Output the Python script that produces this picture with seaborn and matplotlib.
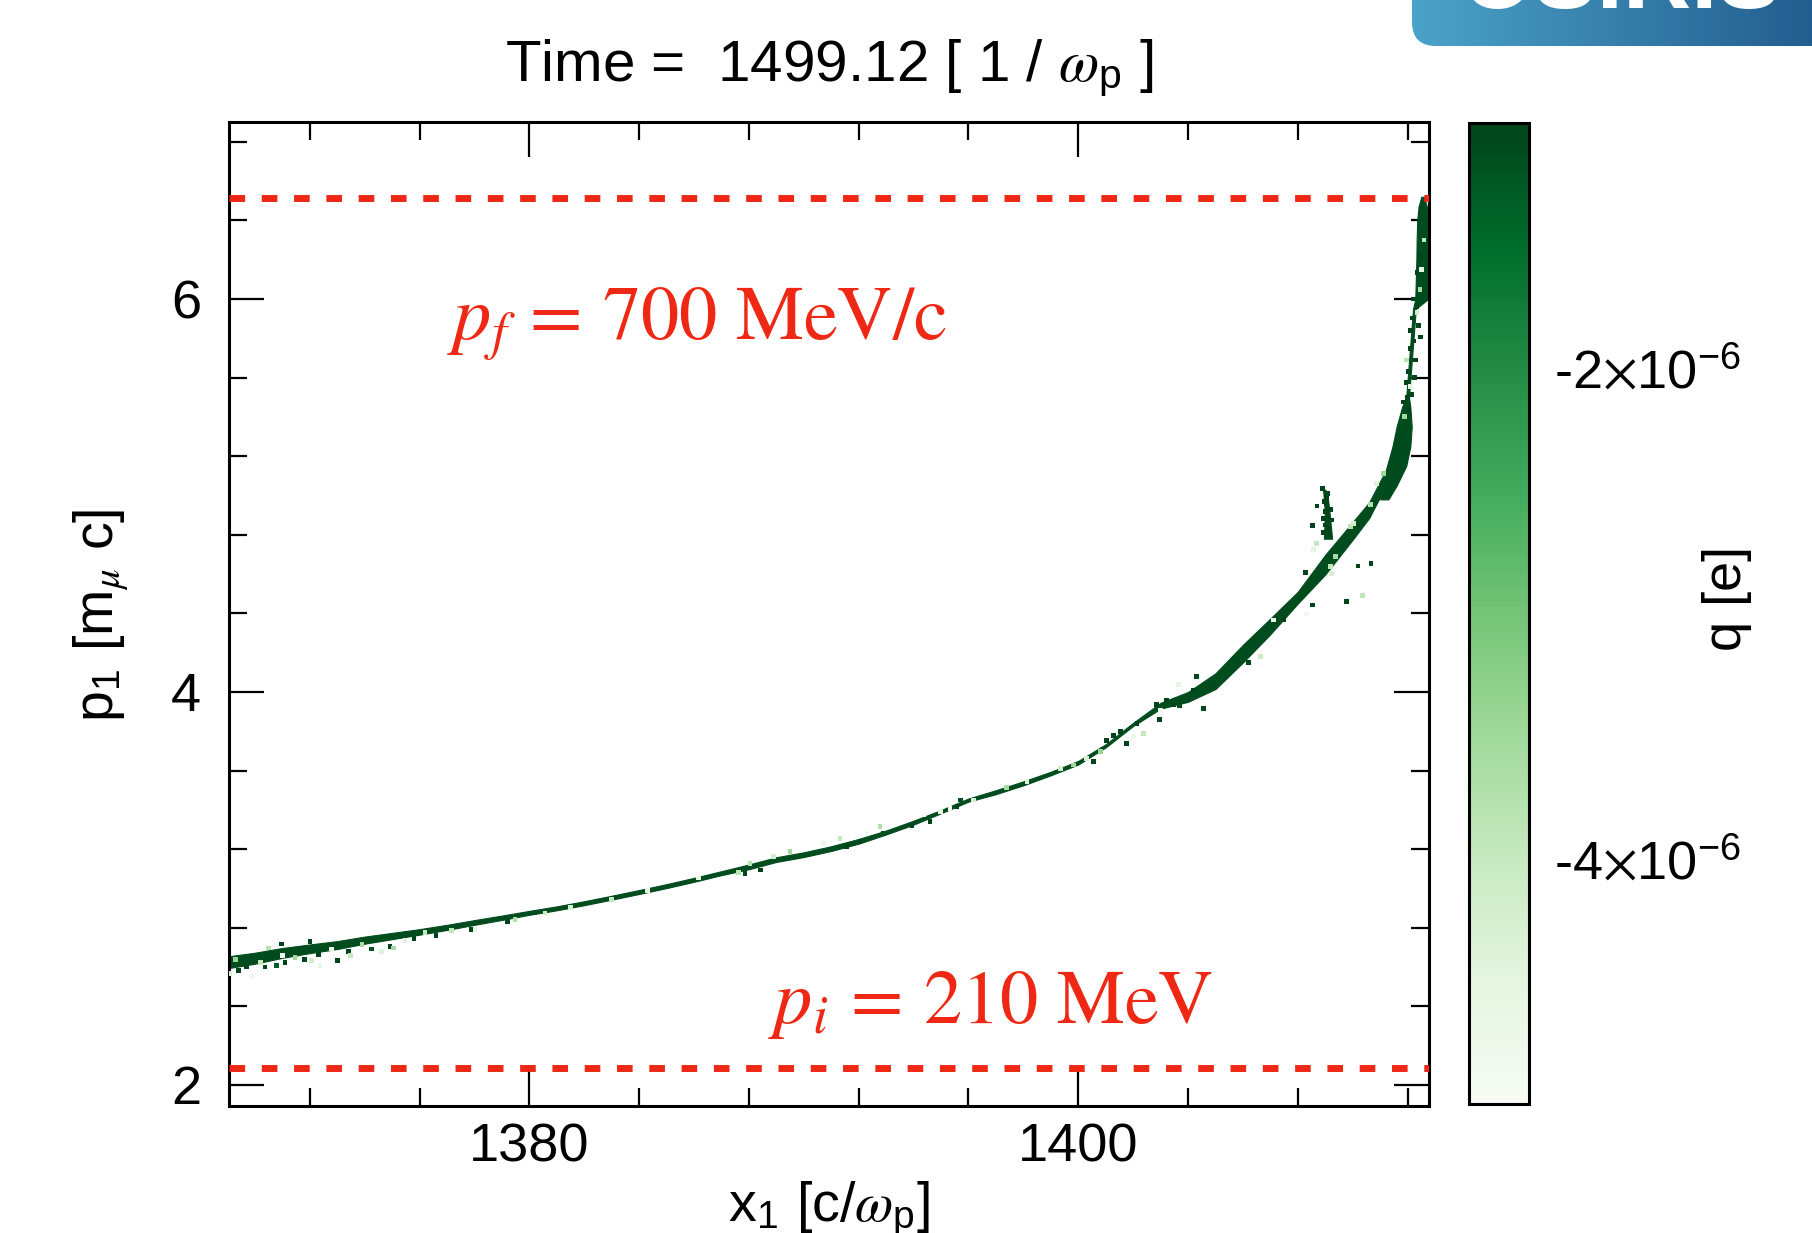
import numpy as np
import pandas as pd
import matplotlib.pyplot as plt
import seaborn as sns
from matplotlib.colors import Normalize, LinearSegmentedColormap
from matplotlib.ticker import MultipleLocator, FuncFormatter
from matplotlib.patches import FancyBboxPatch

# dense core of the muon bunch: centre line p1(x1) and half width in p1
band_x = [1369.05, 1370, 1371, 1372, 1373, 1374, 1375, 1376, 1377, 1378, 1379,
          1380, 1381, 1382, 1383, 1384, 1385, 1386, 1387, 1388, 1389, 1390,
          1391, 1392, 1393, 1394, 1395, 1396, 1397, 1398, 1399, 1400, 1401,
          1402, 1403, 1404, 1405, 1406, 1407, 1408, 1409, 1410, 1410.6, 1411.1]
band_p = [2.625, 2.645, 2.672, 2.693, 2.712, 2.737, 2.758, 2.779, 2.802, 2.827, 2.851,
          2.876, 2.899, 2.925, 2.953, 2.982, 3.012, 3.044, 3.078, 3.110, 3.147, 3.172,
          3.203, 3.240, 3.285, 3.335, 3.391, 3.450, 3.490, 3.535, 3.585, 3.640, 3.726,
          3.835, 3.930, 3.975, 4.055, 4.195, 4.334, 4.480, 4.648, 4.820, 4.925, 5.060]
band_dp = [0.030, 0.028, 0.025, 0.022, 0.020, 0.018, 0.016, 0.014, 0.013, 0.012, 0.011,
           0.010, 0.010, 0.010, 0.010, 0.010, 0.010, 0.010, 0.010, 0.012, 0.012, 0.012,
           0.012, 0.012, 0.010, 0.010, 0.008, 0.008, 0.010, 0.010, 0.009, 0.009, 0.008,
           0.008, 0.015, 0.025, 0.040, 0.045, 0.040, 0.030, 0.050, 0.045, 0.040, 0.040]

# steep head of the bunch: x1 range for each p1
steep_p = [4.98, 5.05, 5.15, 5.25, 5.35, 5.45, 5.50, 5.95, 6.00, 6.10, 6.20, 6.30, 6.40, 6.47, 6.52]
steep_xlo = [1411.0, 1411.05, 1411.25, 1411.45, 1411.6, 1411.8, 1411.95, 1412.2, 1412.28,
             1412.3, 1412.32, 1412.33, 1412.35, 1412.4, 1412.5]
steep_xhi = [1411.3, 1411.6, 1411.95, 1412.1, 1412.15, 1412.1, 1412.05, 1412.3, 1412.75,
             1412.78, 1412.78, 1412.78, 1412.75, 1412.7, 1412.6]

# narrow spike sticking out of the bunch near x1 = 1409
spike_p = [4.78, 4.85, 4.92, 4.98, 5.03]
spike_xlo = [1408.95, 1408.97, 1408.98, 1408.95, 1408.92]
spike_xhi = [1409.25, 1409.2, 1409.15, 1409.1, 1409.0]

# single macro particles around the core (q in 1e-6 e)
part_x = [1369.4, 1369.7, 1370.37, 1370.8, 1370.98, 1371.1, 1371.8, 1372.01, 1372.31, 1373.0, 1373.4, 1374.25, 1374.92, 1375.8, 1376.6, 1377.9, 1379.2,
          1369.09, 1369.3, 1369.88, 1370.2, 1370.49, 1371.0, 1371.46, 1372.07, 1372.37, 1372.8, 1373.47, 1373.9, 1374.6, 1375.05, 1375.47, 1376.2, 1377.17, 1378.02, 1379.48, 1380.57, 1381.5, 1383.0, 1384.3, 1386.16, 1387.62,
          1388.04, 1388.9, 1389.5, 1390.72, 1391.32, 1392.3, 1392.78, 1394.36, 1394.97, 1395.33, 1396.18, 1397.4, 1398.13, 1399.34, 1399.83, 1400.31, 1400.8, 1402.01, 1402.38, 1402.99,
          1387.86, 1388.41, 1391.57, 1392.05, 1392.9, 1393.94, 1394.6, 1395.58, 1395.7, 1400.56, 1401.04, 1401.29, 1401.53, 1401.77, 1402.14, 1403.47,
          1402.84, 1402.96, 1403.23, 1403.47, 1403.69, 1404.2, 1404.32, 1404.56, 1408.27, 1408.54, 1408.54, 1408.7, 1409.76, 1410.19, 1410.67, 1407.5, 1406.2,
          1403.65, 1406.63, 1407.11, 1408.33, 1408.57, 1408.69, 1409.18, 1409.24, 1409.36, 1409.91, 1410.03, 1410.36, 1410.64, 1410.88, 1411.12,
          1408.91, 1408.94, 1408.95, 1408.98, 1409.0, 1409.0, 1409.05, 1409.06, 1409.1, 1409.1, 1409.12, 1409.15, 1409.2, 1409.24,
          1411.85, 1412.04, 1412.0, 1412.16, 1411.97, 1412.25, 1412.04, 1412.28, 1412.1, 1412.22, 1412.46, 1412.1, 1412.4, 1412.16, 1412.34, 1412.22, 1412.34, 1412.46,
          1411.9, 1412.1, 1411.97, 1412.34, 1412.45, 1412.5, 1412.6]
part_p = [2.583, 2.600, 2.600, 2.610, 2.717, 2.625, 2.640, 2.730, 2.663, 2.633, 2.680, 2.692, 2.703, 2.745, 2.762, 2.790, 2.830,
          2.567, 2.640, 2.550, 2.625, 2.697, 2.660, 2.650, 2.633, 2.608, 2.692, 2.658, 2.715, 2.680, 2.697, 2.737, 2.775, 2.787, 2.792, 2.842, 2.875, 2.905, 2.945, 2.990, 3.053, 3.083,
          3.128, 3.162, 3.187, 3.230, 3.255, 3.280, 3.314, 3.374, 3.391, 3.408, 3.450, 3.515, 3.543, 3.611, 3.628, 3.662, 3.696, 3.772, 3.789, 3.908,
          3.077, 3.094, 3.213, 3.238, 3.280, 3.318, 3.340, 3.416, 3.450, 3.645, 3.755, 3.780, 3.798, 3.738, 3.840, 3.934,
          3.937, 3.861, 3.959, 3.934, 3.929, 4.010, 4.078, 3.917, 4.609, 4.846, 4.443, 4.946, 4.460, 4.641, 4.655, 4.370, 4.150,
          4.039, 4.180, 4.366, 4.397, 4.723, 4.757, 4.638, 4.604, 4.689, 4.841, 4.858, 4.489, 4.952, 5.062, 5.113,
          5.036, 4.884, 4.810, 4.970, 4.918, 4.850, 4.990, 4.960, 4.900, 5.010, 4.833, 4.800, 4.930, 4.875,
          5.476, 5.437, 5.500, 5.515, 5.573, 5.600, 5.631, 5.689, 5.748, 5.786, 5.806, 5.840, 5.864, 5.903, 5.961, 6.000, 6.136, 6.214,
          5.400, 5.553, 5.689, 5.932, 6.050, 6.150, 6.300]
part_q = [-1.0, -1.0, -1.0, -1.3, -1.0, -1.0, -1.0, -1.0, -1.0, -1.0, -1.0, -1.2, -1.0, -1.0, -1.0, -1.0, -1.0,
          -4.3, -3.4, -4.8, -4.0, -3.8, -4.9, -3.5, -4.2, -4.6, -4.7, -4.0, -3.6, -4.4, -3.6, -4.4, -4.0, -3.9, -4.5, -3.7, -4.1, -4.2, -3.9, -4.5, -4.6, -3.8,
          -3.8, -4.2, -3.5, -4.6, -4.0, -4.8, -3.7, -4.9, -4.5, -5.0, -4.2, -3.6, -4.4, -4.1, -3.5, -4.3, -3.4, -4.7, -4.0, -4.6,
          -1.0, -1.0, -1.0, -1.0, -1.2, -1.0, -1.0, -1.0, -1.2, -1.0, -1.0, -1.0, -1.0, -1.0, -1.0, -1.0,
          -1.0, -1.0, -1.0, -1.0, -1.1, -1.0, -1.0, -1.0, -1.0, -1.0, -1.0, -1.0, -1.0, -1.0, -1.0, -1.0, -1.0,
          -4.5, -4.1, -4.6, -4.8, -4.5, -4.0, -3.9, -4.3, -3.6, -3.8, -4.2, -3.9, -3.7, -4.4, -3.5,
          -1.0, -1.0, -1.0, -1.0, -1.0, -1.0, -1.0, -1.0, -1.0, -1.0, -1.0, -1.0, -1.0, -1.0,
          -1.0, -1.0, -1.0, -1.0, -1.0, -1.0, -1.0, -1.0, -1.0, -1.0, -1.0, -1.0, -1.0, -1.0, -1.0, -1.0, -1.0, -1.0,
          -3.5, -4.5, -3.8, -4.2, -3.6, -4.6, -3.9]

q_range = (-5.0e-6, -1.0e-6)
core_q = -1.1e-6
p_final = 6.512   # 700 MeV/c
p_init = 2.085    # 210 MeV
red = '#ee2814'

sns.set_style('ticks')
plt.rcParams['font.family'] = ['Liberation Sans', 'DejaVu Sans']
plt.rcParams['mathtext.fontset'] = 'stix'
for k in ('text.color', 'axes.labelcolor', 'xtick.color', 'ytick.color', 'axes.edgecolor'):
    plt.rcParams[k] = 'black'

W, H = 1812, 1233
fig = plt.figure(figsize=(W / 100, H / 100), dpi=100)
ax = fig.add_axes([228.8 / W, 1 - 1106 / H, (1429 - 228.8) / W, (1106 - 122.3) / H])

cmap = plt.get_cmap('Greens')
norm = Normalize(*q_range)
core_col = cmap(norm(core_q))

# core of the bunch
ax.fill_between(band_x, np.array(band_p) - np.array(band_dp), np.array(band_p) + np.array(band_dp),
                color=core_col, linewidth=0.8, edgecolor=core_col)
ax.fill_betweenx(steep_p, steep_xlo, steep_xhi, color=core_col, linewidth=0.8, edgecolor=core_col)
ax.fill_betweenx(spike_p, spike_xlo, spike_xhi, color=core_col, linewidth=0.8, edgecolor=core_col)

df = pd.DataFrame({'x1': part_x, 'p1': part_p, 'q': np.array(part_q) * 1e-6})
sns.scatterplot(data=df, x='x1', y='p1', hue='q', palette='Greens', hue_norm=q_range,
                marker='s', s=12, linewidth=0, legend=False, ax=ax, zorder=3)

for pl in (p_final, p_init):
    ax.axhline(pl, color=red, lw=5, ls=(0, (2.25, 2.4)), dash_capstyle='butt', zorder=4)

ax.text(1377.0, 5.797, r'$p_f\,=\,700\ \mathrm{MeV/c}$', color=red, fontsize=55, va='baseline')
ax.text(1388.7, 2.316, r'$p_i\,=\,210\ \mathrm{MeV}$', color=red, fontsize=55, va='baseline')

ax.set_xlim(1369.05, 1412.78)
ax.set_ylim(1.893, 6.899)
ax.set_xlabel('')
ax.set_ylabel('')
ax.xaxis.set_major_locator(MultipleLocator(20))
ax.xaxis.set_minor_locator(MultipleLocator(4))
ax.yaxis.set_major_locator(MultipleLocator(2))
ax.yaxis.set_minor_locator(MultipleLocator(0.4))
ax.tick_params(which='both', direction='in', top=True, right=True, width=1.6, labelsize=39)
ax.tick_params(which='major', length=25)
ax.tick_params(which='minor', length=13)
ax.tick_params(axis='y', pad=20)
ax.tick_params(axis='x', pad=12)
for s in ax.spines.values():
    s.set_linewidth(2.2)

# colour bar
cax = fig.add_axes([1468.5 / W, 1 - 1104 / H, 60 / W, (1104 - 122.8) / H])
sm = plt.cm.ScalarMappable(norm=norm, cmap=cmap)
cbar = fig.colorbar(sm, cax=cax)
cbar.set_ticks([-4e-6, -2e-6])
cbar.ax.yaxis.set_minor_locator(MultipleLocator(0.4e-6))
cbar.ax.yaxis.set_major_formatter(FuncFormatter(
    lambda v, pos: r'%d$\times$10$^{\mathregular{-6}}$' % round(v * 1e6)))
cbar.ax.tick_params(which='both', direction='in', left=True, right=True, width=1.6,
                    labelsize=39, pad=18)
cbar.ax.tick_params(which='major', length=14)
cbar.ax.tick_params(which='minor', length=7)
cbar.outline.set_linewidth(2.2)

# titles and labels
fig.text(829 / W, 1 - 81 / H, r'Time =  1499.12 [ 1 / $\omega_\mathregular{p}$ ]',
         ha='center', va='baseline', fontsize=42)
fig.text(829 / W, 1 - 1180 / H, r'x$_\mathregular{1}$ [c/$\omega_\mathregular{p}$]',
         ha='center', va='top', fontsize=40)
fig.text(101 / W, 1 - 615 / H, r'p$_\mathregular{1}$ [m$_\mu$ c]', rotation=90,
         ha='center', va='center', fontsize=40)
fig.text(1727 / W, 1 - 598 / H, 'q [e]', rotation=90, ha='center', va='center', fontsize=39)

# logo corner
lax = fig.add_axes([1412 / W, 1 - 46 / H, 460 / W, 80 / H])
lax.set_axis_off()
lax.set_xlim(0, 460)
lax.set_ylim(0, 80)
box = FancyBboxPatch((0, 0), 520, 140, boxstyle='round,pad=0,rounding_size=24',
                     facecolor='none', edgecolor='none', transform=lax.transData)
lax.add_patch(box)
logo_cmap = LinearSegmentedColormap.from_list('logo', ['#4ba3c9', '#1d5386'])
im = lax.imshow(np.linspace(0, 1, 256).reshape(1, -1), cmap=logo_cmap,
                extent=(0, 460, 0, 80), aspect='auto')
im.set_clip_path(box)
lax.text(48, 38, 'OSIRIS', color='white', fontsize=68, fontweight='bold', va='baseline')

fig.savefig('out.png', dpi=100)
